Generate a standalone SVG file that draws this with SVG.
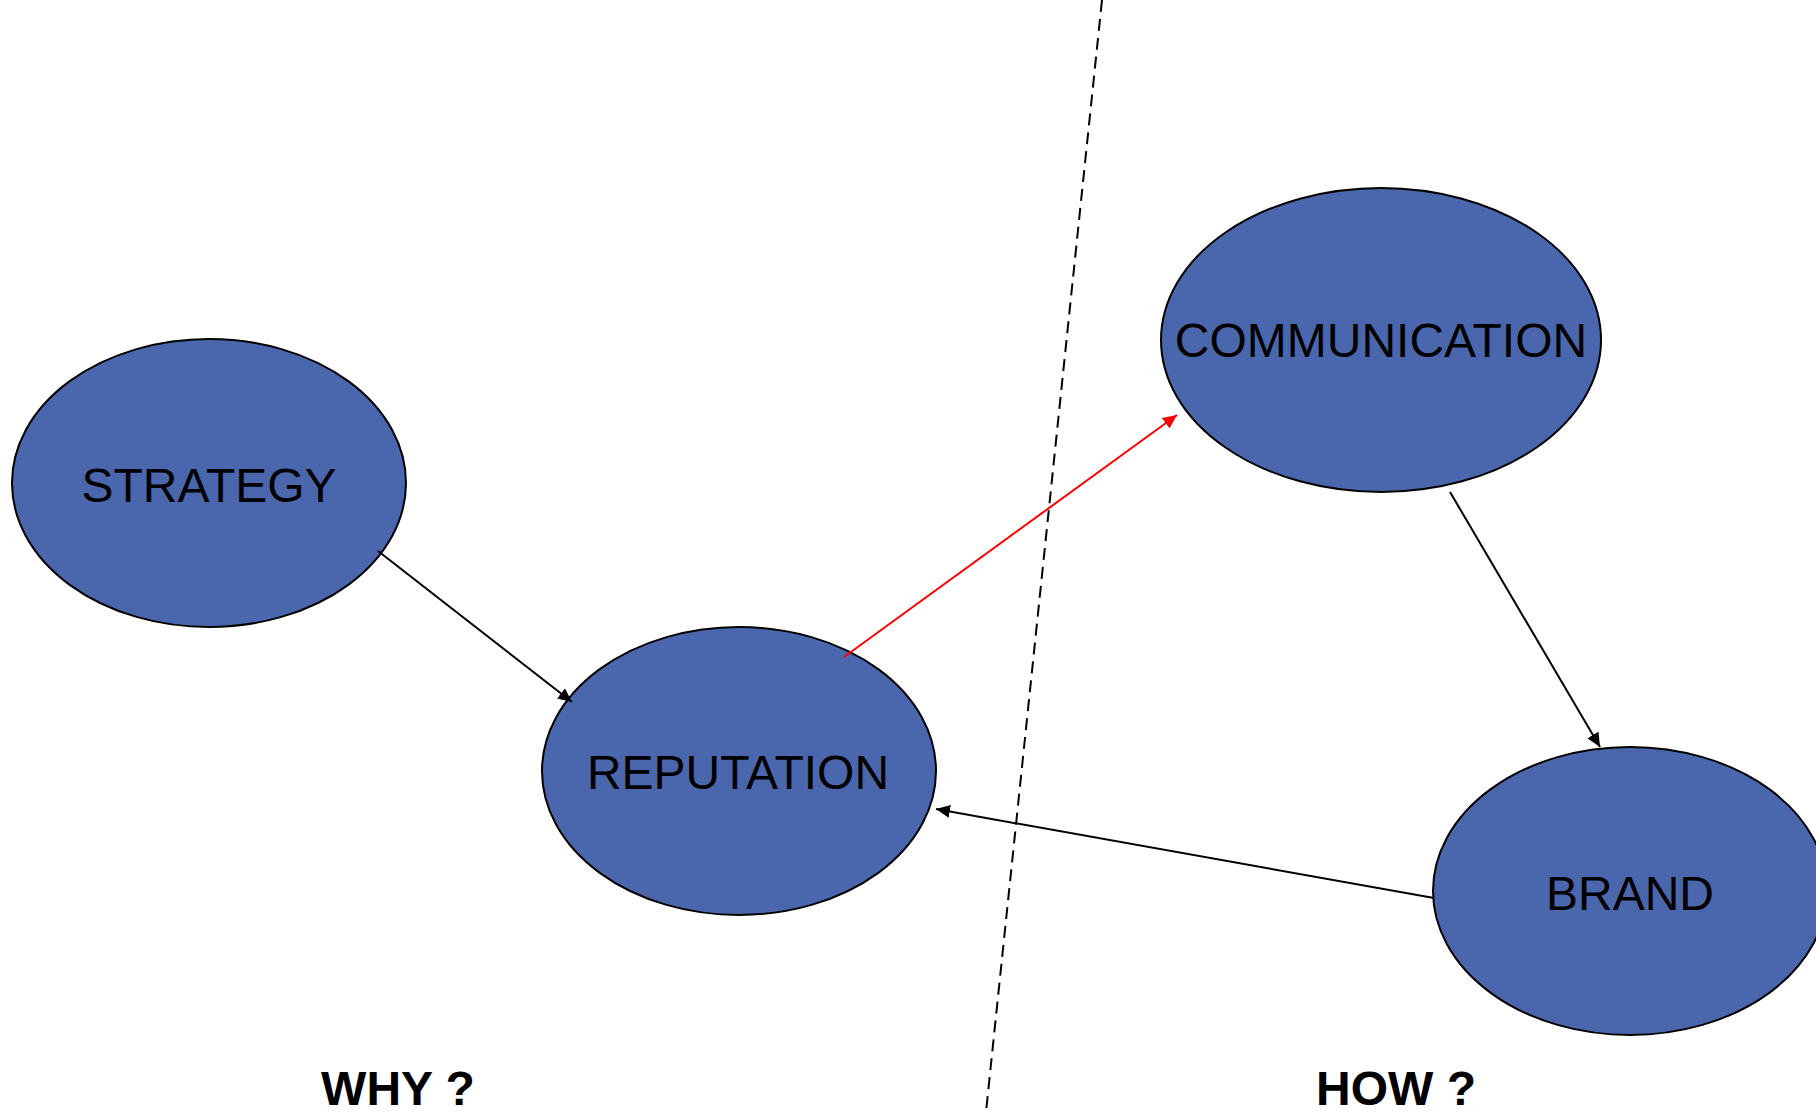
<svg xmlns="http://www.w3.org/2000/svg" width="1816" height="1112" viewBox="0 0 1816 1112">
<style>
.node{fill:#4A67AD;stroke:#000;stroke-width:2}
.lbl{font-family:"Liberation Sans",Arial,sans-serif;font-size:48px;fill:#000;text-anchor:middle}
.hdr{font-family:"Liberation Sans",Arial,sans-serif;font-size:48px;font-weight:bold;fill:#000;text-anchor:middle}
.edge{stroke:#000;stroke-width:2;fill:none}
</style>
<defs>
<marker id="ah" markerWidth="7" markerHeight="6.5" refX="7" refY="3.25" orient="auto" markerUnits="strokeWidth">
<path d="M0,0 L7,3.25 L0,6.5 z" fill="#000"/>
</marker>
<marker id="ahr" markerWidth="7" markerHeight="6.5" refX="7" refY="3.25" orient="auto" markerUnits="strokeWidth">
<path d="M0,0 L7,3.25 L0,6.5 z" fill="#FF0000"/>
</marker>
</defs>
<rect width="1816" height="1112" fill="#fff"/>
<line x1="1102" y1="0" x2="986" y2="1112" stroke="#000" stroke-width="2" stroke-dasharray="12,7"/>
<g id="node-strategy">
<ellipse class="node" cx="209" cy="483" rx="197" ry="144"/>
<text class="lbl" x="209" y="502">STRATEGY</text>
</g>
<g id="node-reputation">
<ellipse class="node" cx="739" cy="771" rx="197" ry="144"/>
<text class="lbl" x="738" y="789">REPUTATION</text>
</g>
<g id="node-communication">
<ellipse class="node" cx="1381" cy="340" rx="220" ry="152"/>
<text class="lbl" x="1381" y="357">COMMUNICATION</text>
</g>
<g id="node-brand">
<ellipse class="node" cx="1630" cy="891" rx="197" ry="144"/>
<text class="lbl" x="1630" y="910">BRAND</text>
</g>
<g id="connectors">
<line class="edge" x1="378" y1="551" x2="572" y2="702" marker-end="url(#ah)"/>
<line x1="844" y1="657" x2="1177" y2="415" stroke="#FF0000" stroke-width="2" marker-end="url(#ahr)"/>
<line class="edge" x1="1450" y1="492" x2="1600" y2="747" marker-end="url(#ah)"/>
<line class="edge" x1="1434" y1="898" x2="936" y2="809" marker-end="url(#ah)"/>
</g>
<text class="hdr" x="398" y="1105">WHY ?</text>
<text class="hdr" x="1396" y="1105">HOW ?</text>
</svg>
